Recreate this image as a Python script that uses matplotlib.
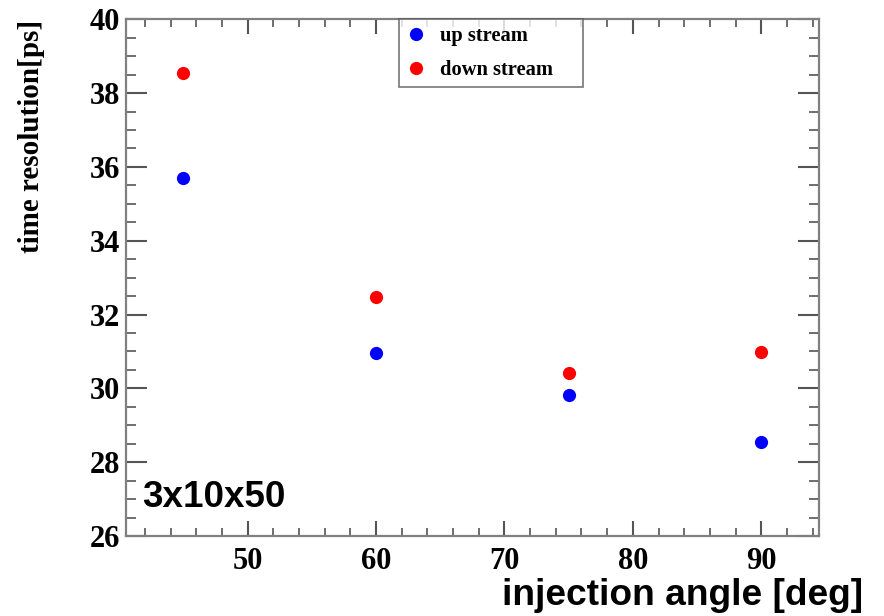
import matplotlib
matplotlib.use("Agg")
import matplotlib.pyplot as plt
from matplotlib.ticker import MultipleLocator

angles = [45, 60, 75, 90]
up_stream = [35.70, 30.96, 29.81, 28.54]
down_stream = [38.54, 32.48, 30.43, 30.98]
series_labels = ["up stream", "down stream"]
x_label = "injection angle [deg]"
y_label = "time resolution[ps]"
note = "3x10x50"

serif = ["Liberation Serif", "DejaVu Serif"]
sans = ["Liberation Sans", "DejaVu Sans"]

fig = plt.figure(figsize=(8.84, 6.16), dpi=100)
ax = fig.add_axes([125.7/884, 1-536/616, (819-125.7)/884, (536-19.3)/616])

ax.plot(angles, up_stream, 'o', color='#0000ff', ms=9.5, mec='none', label=series_labels[0])
ax.plot(angles, down_stream, 'o', color='#ff0000', ms=9.5, mec='none', label=series_labels[1])

ax.set_xlim(40.5, 94.5)
ax.set_ylim(26, 40)
ax.xaxis.set_major_locator(MultipleLocator(10))
ax.xaxis.set_minor_locator(MultipleLocator(2))
ax.yaxis.set_major_locator(MultipleLocator(2))
ax.yaxis.set_minor_locator(MultipleLocator(0.5))

tc = '#555555'
for s in ax.spines.values():
    s.set_color('#808080')
    s.set_linewidth(1.6)
ax.tick_params(axis='x', which='major', direction='in', length=10.8, width=1.5, color=tc, top=True, pad=8)
ax.tick_params(axis='x', which='minor', direction='in', length=5.8, width=1.2, color=tc, top=True)
ax.tick_params(axis='y', which='major', direction='in', length=15, width=1.5, color=tc, right=True, pad=4)
ax.tick_params(axis='y', which='minor', direction='in', length=7.2, width=1.2, color=tc, right=True)
for lab in ax.get_xticklabels() + ax.get_yticklabels():
    lab.set_fontfamily(serif)
    lab.set_fontweight('bold')
    lab.set_fontsize(22)

axw = (819-125.7)
leg = ax.legend(loc='upper left',
                bbox_to_anchor=((399-125.7)/axw, 0.0, (582.7-399)/axw, 1.0),
                mode='expand',
                prop={'family': serif, 'weight': 'bold', 'size': 14.8},
                frameon=True, fancybox=False, borderpad=0.33, handletextpad=0.65,
                labelspacing=0.7, handlelength=1.0, borderaxespad=0)
leg.get_frame().set_edgecolor('#555555')
leg.get_frame().set_linewidth(1.2)

fig.text(32/884, 1-20/616, y_label, rotation=90, ha='center', va='top',
         fontfamily=serif, fontweight='bold', fontsize=21)
fig.text(863/884, 1-605/616, x_label, ha='right', va='baseline',
         fontfamily=sans, fontweight='bold', fontsize=26.7)
fig.text(141.7/884, 1-506.7/616, note, ha='left', va='baseline',
         fontfamily=sans, fontweight='bold', fontsize=26.5)

fig.savefig("out.png", dpi=100)
